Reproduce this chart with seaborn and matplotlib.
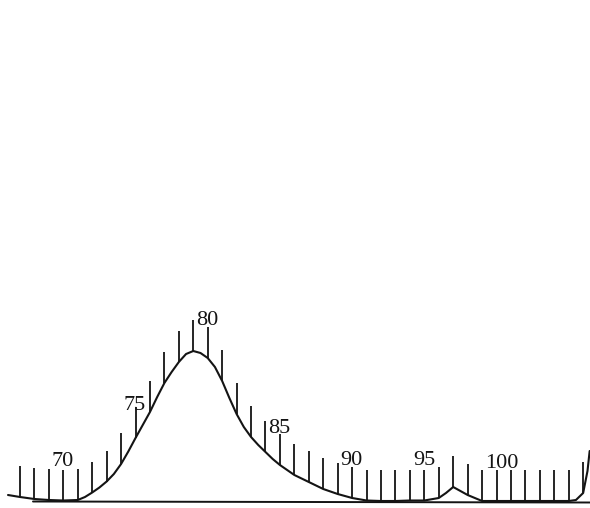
import matplotlib
matplotlib.use("Agg")
import matplotlib.pyplot as plt
import seaborn as sns
import pandas as pd
import numpy as np

# --- data (heights in pixel units above the baseline) ---
curve_x = [67.17, 68, 69, 70, 71, 72, 72.5, 73, 73.5, 74, 74.5, 75, 75.5, 76, 76.5,
           77, 77.5, 78, 78.5, 79, 79.5, 80, 80.5, 81, 81.5, 82, 82.5, 83, 83.5, 84,
           84.5, 85, 85.5, 86, 86.5, 87, 88, 89, 90, 91, 92, 93, 94, 95, 96, 97,
           97.5, 98, 98.5, 99, 99.5, 100, 101, 102, 103, 104, 105, 106, 106.5, 107,
           107.3, 107.45]
curve_y = [6, 4, 2, 1, 0.5, 1, 4, 8.5, 13.5, 19.5, 27, 37, 49.5, 63, 76,
           89, 104, 118, 129, 139, 147, 150, 148, 143, 134, 120, 103, 87, 74, 64,
           56, 49, 42, 36, 31, 26, 19, 12, 7, 3, 0.5, 0, 0, 0.5, 0.5, 3,
           8, 14, 10, 6, 3, 0, 0, 0, 0, 0, 0, 0, 1, 8,
           30, 50]
tick_values = list(range(68, 108))
label_values = [70, 75, 80, 85, 90, 95, 100]
label_texts = ["70", "75", "80", "85", "90", "95", "100"]

# layout (not data)
label_bottoms = [35, 91, 176, 68, 36, 36, 33]
TICK_LEN = 31
INK = "#141414"

sns.set_theme(style="white")
plt.rcParams["font.family"] = ["Liberation Serif", "DejaVu Serif"]

fig = plt.figure(figsize=(5.90, 5.08), dpi=100)
ax = fig.add_axes([0, 0, 1, 1])

df = pd.DataFrame({"x": curve_x, "y": curve_y})
sns.lineplot(data=df, x="x", y="y", ax=ax, color=INK, linewidth=1.5,
             sort=False, estimator=None)

# baseline
ax.plot([68.9, 107.5], [-0.5, -1.5], color=INK, linewidth=1.4)

# ticks rising from the curve
tick_base = np.interp(tick_values, curve_x, curve_y)
ax.vlines(tick_values, tick_base, tick_base + TICK_LEN, color=INK, linewidth=1.3)

for v, t, b in zip(label_values, label_texts, label_bottoms):
    ax.text(v + 0.2, b, t, ha="left", va="baseline", fontsize=16, color=INK)

ax.set_xlim(68 - 20 / 14.44, 68 + 570 / 14.44)
ax.set_ylim(-7, 501)
ax.set_axis_off()
ax.set_xlabel("")
ax.set_ylabel("")

fig.savefig("out.png", dpi=100)
